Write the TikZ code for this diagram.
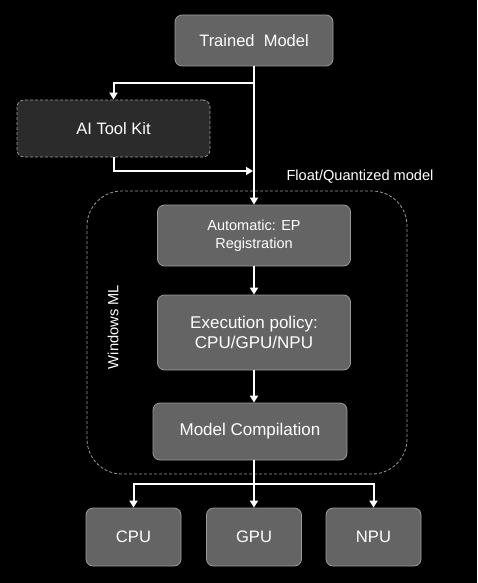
\documentclass[tikz,border=0pt]{standalone}
\usepackage{fontspec}
\setmainfont{Liberation Sans}
\usetikzlibrary{arrows.meta}
\definecolor{boxfill}{HTML}{646464}
\definecolor{boxedge}{HTML}{9A9A9A}
\definecolor{darkfill}{HTML}{2B2B2B}
\tikzset{
  gbox/.style={draw=boxedge, line width=0.8pt, fill=boxfill, rounded corners=7pt, text=white, align=center, inner sep=0pt},
  dbox/.style={draw=boxedge, line width=0.8pt, fill=darkfill, rounded corners=7pt, text=white, align=center, inner sep=0pt, dash pattern=on 3pt off 2pt},
  wire/.style={draw=white, line width=2pt},
  arr/.style={wire, -{Triangle[width=8pt,length=7pt]}},
  lbl/.style={text=white, inner sep=0pt}
}
\begin{document}
\begin{tikzpicture}[x=1pt,y=-1pt]
\useasboundingbox[fill=black] (0,0) rectangle (477,583);
% container
\draw[boxedge, line width=0.8pt, dash pattern=on 3pt off 2pt, rounded corners=35pt] (87,191) rectangle (407,474);
\node[lbl, rotate=90, font=\fontsize{14.7}{17}\selectfont] (wml) at (113,327) {Windows ML};
% nodes
\node[gbox, minimum width=158pt, minimum height=51pt, font=\fontsize{16.5}{19}\selectfont] (trained) at (254,40.5) {Trained\ \ Model};
\node[dbox, minimum width=193pt, minimum height=57pt, font=\fontsize{16.5}{19}\selectfont] (tool) at (113.5,128.5) {AI Tool Kit};
\node[lbl, font=\fontsize{14.6}{17}\selectfont] (flt) at (360,177) {Float/Quantized model};
\node[gbox, minimum width=193pt, minimum height=61pt, font=\fontsize{14.5}{17.5}\selectfont] (auto) at (254,235.5) {Automatic: EP\\Registration};
\node[gbox, minimum width=193pt, minimum height=75pt, font=\fontsize{17}{20.5}\selectfont] (exec) at (254,332.5) {Execution policy:\\CPU/GPU/NPU};
\node[gbox, minimum width=194pt, minimum height=57pt, font=\fontsize{17}{20}\selectfont] (comp) at (250,431.5) {Model Compilation};
\node[gbox, minimum width=95pt, minimum height=58pt, font=\fontsize{16.6}{19}\selectfont] (cpu) at (133.5,537) {CPU};
\node[gbox, minimum width=95pt, minimum height=58pt, font=\fontsize{16.6}{19}\selectfont] (gpu) at (254,537) {GPU};
\node[gbox, minimum width=95pt, minimum height=58pt, font=\fontsize{16.6}{19}\selectfont] (npu) at (373.5,537) {NPU};
% connectors
\coordinate (b1) at (254,83);
\coordinate (b2) at (253,171);
\coordinate (j) at (254,484);
\draw[arr] (trained.south) -- (auto.north);
\draw[arr] (b1) -| (tool.north);
\draw[arr] (tool.south) |- (b2);
\draw[arr] (auto.south) -- (exec.north);
\draw[arr] (exec.south) -- (exec.south |- comp.north);
\draw[wire] (comp.south -| j) -- (j);
\draw[arr] (j) -| (cpu.north);
\draw[arr] (j) -| (npu.north);
\draw[arr] (j) -- (gpu.north);
\end{tikzpicture}
\end{document}
